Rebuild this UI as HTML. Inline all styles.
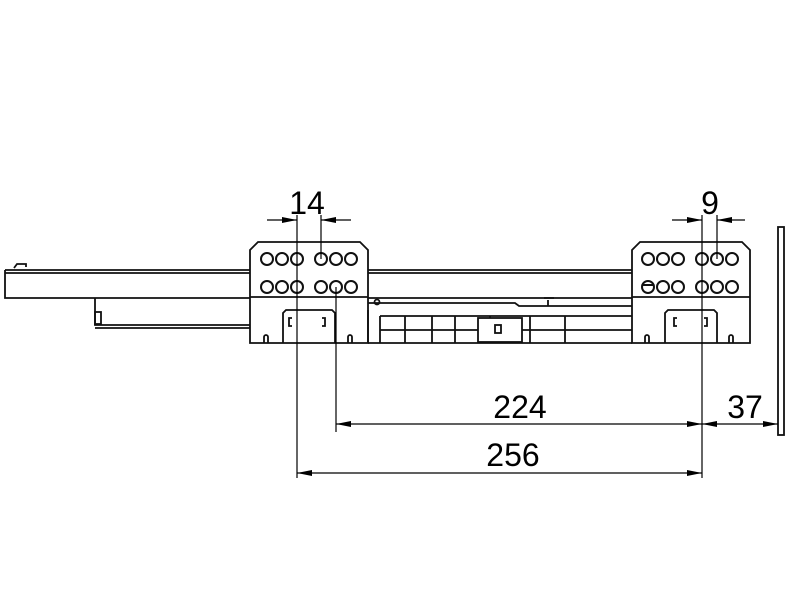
<!DOCTYPE html>
<html><head><meta charset="utf-8"><style>html,body{margin:0;padding:0;background:#fff}</style></head>
<body>
<svg width="800" height="600" viewBox="0 0 800 600" xmlns="http://www.w3.org/2000/svg" font-family="Liberation Sans, sans-serif">
<defs>
<marker id="a" viewBox="0 0 10 4" refX="10" refY="2" markerWidth="18" markerHeight="6" markerUnits="userSpaceOnUse" orient="auto-start-reverse"><path d="M0,0 L10,2 L0,4z" fill="#000"/></marker>
</defs>
<g fill="none" stroke="#111" stroke-width="1.8">
<path d="M5,270 H250 M5,273 H250 M5,270 V298 H250 M368,270 H632 M368,273 H632 M368,298 H632"/>
<path d="M14,268 l3,-4 h9 v3"/>
<path d="M95,298 V325 H250 M95,328 H250"/>
<rect x="95" y="312" width="6" height="12"/>
<path d="M368,303 H515 l4,3 H632 M368,343 H632 M368,310 V343"/>
<path d="M380,316 H632 M380,330 H632 M380,316 V343 M405,316 V343 M432,316 V343 M455,316 V343 M490,316 V343 M530,316 V343 M565,316 V343"/>
<rect x="478" y="318" width="44" height="24" fill="#fff"/>
<rect x="495" y="325" width="6" height="8"/>
<path d="M548,300 V306 M544,298 H554"/>
<circle cx="377" cy="302" r="2.5"/>
<path d="M250,343 V250 L258,242 H360 L368,250 V343 Z M250,297 H368"/>
<path d="M283,343 V313 l3,-3 H332 l3,3 V343"/>
<path d="M292,318 h-3 v8 h3 M322,318 h3 v8 h-3"/>
<path d="M264,343 v-6 a2,2 0 0 1 4,0 v6 M348,343 v-6 a2,2 0 0 1 4,0 v6"/>
<g stroke-width="2">
<circle cx="267" cy="259" r="6"/><circle cx="282" cy="259" r="6"/><circle cx="297" cy="259" r="6"/>
<circle cx="321" cy="259" r="6"/><circle cx="336" cy="259" r="6"/><circle cx="351" cy="259" r="6"/>
<circle cx="267" cy="287" r="6"/><circle cx="282" cy="287" r="6"/><circle cx="297" cy="287" r="6"/>
<circle cx="321" cy="287" r="6"/><circle cx="336" cy="287" r="6"/><circle cx="351" cy="287" r="6"/>
</g>
<path d="M632,343 V250 L640,242 H742 L750,250 V343 Z M632,297 H750"/>
<path d="M665,343 V313 l3,-3 H714 l3,3 V343"/>
<path d="M677,318 h-3 v8 h3 M704,318 h3 v8 h-3"/>
<path d="M645,343 v-6 a2,2 0 0 1 4,0 v6 M729,343 v-6 a2,2 0 0 1 4,0 v6"/>
<g stroke-width="2">
<circle cx="648" cy="259" r="6"/><circle cx="663" cy="259" r="6"/><circle cx="678" cy="259" r="6"/>
<circle cx="702" cy="259" r="6"/><circle cx="717" cy="259" r="6"/><circle cx="732" cy="259" r="6"/>
<circle cx="648" cy="287" r="6"/><circle cx="663" cy="287" r="6"/><circle cx="678" cy="287" r="6"/>
<circle cx="702" cy="287" r="6"/><circle cx="717" cy="287" r="6"/><circle cx="732" cy="287" r="6"/>
<path d="M642,285 h12"/>
</g>
<rect x="778" y="227" width="6" height="208"/>
</g>
<g stroke="#000" stroke-width="1.2" fill="none">
<path d="M297,215 V478 M321,215 V259 M336,287 V432 M702,215 V478 M717,215 V259"/>
<path d="M267,220 H297" marker-end="url(#a)"/><path d="M351,220 H321" marker-end="url(#a)"/>
<path d="M672,220 H702" marker-end="url(#a)"/><path d="M745,220 H717" marker-end="url(#a)"/>
<path d="M336,424 H702" marker-start="url(#a)" marker-end="url(#a)"/>
<path d="M702,424 H778" marker-start="url(#a)" marker-end="url(#a)"/>
<path d="M297,473 H702" marker-start="url(#a)" marker-end="url(#a)"/>
</g>
<g font-size="32" text-anchor="middle" fill="#000">
<text x="307" y="214">14</text>
<text x="710" y="214">9</text>
<text x="520" y="418">224</text>
<text x="513" y="466">256</text>
<text x="745" y="418">37</text>
</g>
</svg>
</body></html>
